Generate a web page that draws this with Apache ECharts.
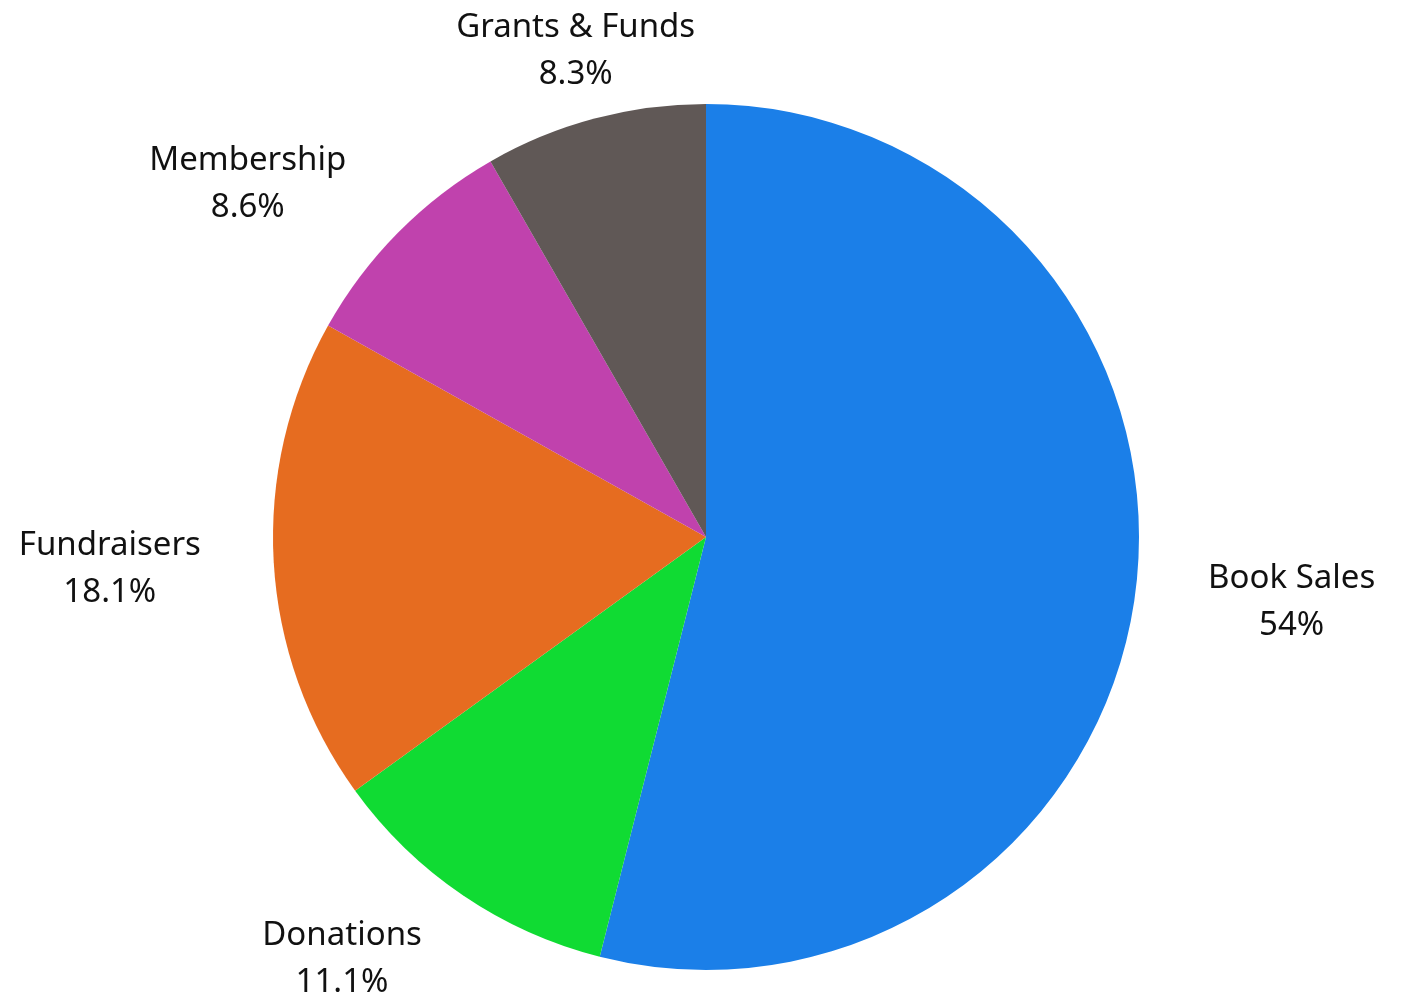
<!DOCTYPE html>
<html>
<head>
<meta charset="utf-8">
<script src="https://cdn.jsdelivr.net/npm/echarts@6/dist/echarts.min.js"></script>
<style>html,body{margin:0;padding:0;background:#fff;}#c{width:1406px;height:995px;}</style>
</head>
<body>
<div id="c"></div>
<script>
const categories = ['Book Sales', 'Donations', 'Fundraisers', 'Membership', 'Grants & Funds'];
const values = [54, 11.1, 18.1, 8.6, 8.3];
const colors = ['#1B7FE8', '#10DB33', '#E66C20', '#C042AD', '#605856'];

const chart = echarts.init(document.getElementById('c'));
chart.setOption({
  backgroundColor: '#ffffff',
  animation: false,
  series: [{
    type: 'pie',
    center: [706, 537],
    radius: 433,
    startAngle: 90,
    clockwise: true,
    avoidLabelOverlap: false,
    data: categories.map((n, i) => ({ name: n, value: values[i], itemStyle: { color: colors[i] } })),
    itemStyle: { borderWidth: 0 },
    label: {
      show: true,
      position: 'outside',
      formatter: p => '{a|' + p.name + '}\n{a|' + p.value + '%}',
      rich: { a: { fontFamily: 'Noto Sans', fontSize: 33, lineHeight: 47, color: '#111', align: 'center' } }
    },
    labelLine: { show: true, length: 73, length2: 0, lineStyle: { opacity: 0 } },
    labelLayout: function (params) {
      const pts = params.labelLinePoints;
      if (!pts) return {};
      const s = pts[0], e = pts[pts.length - 1];
      const dx = e[0] - s[0], dy = e[1] - s[1];
      const len = Math.sqrt(dx * dx + dy * dy) || 1;
      const ux = dx / len;
      let align = Math.abs(ux) < 0.4 ? 'center' : (ux > 0 ? 'left' : 'right');
      return { x: e[0], y: e[1] + 3, align: align, verticalAlign: 'middle' };
    }
  }]
});
</script>
</body>
</html>
